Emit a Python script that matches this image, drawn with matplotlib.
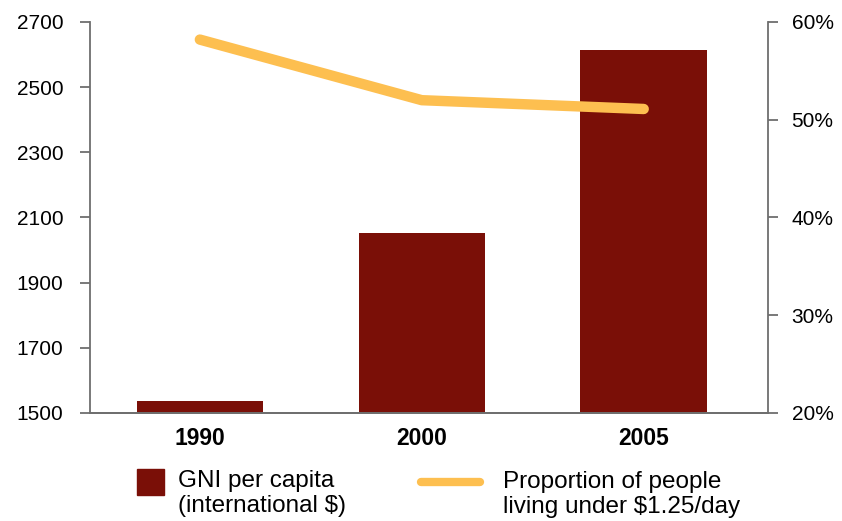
"""
GNI per capita vs proportion of people living under $1.25/day
"""

import matplotlib.pyplot as plt
from matplotlib.lines import Line2D
from matplotlib.patches import Rectangle
from matplotlib.ticker import FuncFormatter

years = ['1990', '2000', '2005']
gni = [1537, 2052, 2613]
poverty = [58.2, 52.0, 51.1]

bar_color = '#7a0f07'
line_color = '#fdbf50'
spine_color = '#6e6e6e'

plt.rcParams['font.family'] = ['Liberation Sans', 'DejaVu Sans']

fig = plt.figure(figsize=(8.42, 5.21), dpi=100)
ax = fig.add_axes([0.1069, 0.2073, 0.8052, 0.7505])
ax2 = ax.twinx()

pos = list(range(len(years)))
ax.bar(pos, gni, width=0.57, color=bar_color, zorder=2)
ax.set_ylim(1500, 2700)
ax.set_yticks([1500, 1700, 1900, 2100, 2300, 2500, 2700])
ax.set_xlim(-0.495, 2.56)
ax.set_xticks(pos)
ax.set_xticklabels(years, fontsize=16.5, fontweight='bold')
ax.tick_params(axis='x', length=0, pad=10)
ax.tick_params(axis='y', length=7, width=1.3, color=spine_color,
               labelsize=15, pad=12)

ax2.plot(pos, poverty, color=line_color, lw=7.5, solid_capstyle='round',
         zorder=3)
ax2.set_ylim(20, 60)
ax2.set_yticks([20, 30, 40, 50, 60])
ax2.yaxis.set_major_formatter(FuncFormatter(lambda v, p: f'{v:.0f}%'))
ax2.tick_params(axis='y', length=7, width=1.3, color=spine_color,
                labelsize=15, pad=10)

for a in (ax, ax2):
    a.spines['top'].set_visible(False)
    for s in ('left', 'right', 'bottom'):
        a.spines[s].set_color(spine_color)
        a.spines[s].set_linewidth(1.3)
ax.spines['right'].set_visible(False)
ax2.spines['left'].set_visible(False)

# legend drawn by hand
fig.add_artist(Rectangle((137 / 842, 1 - 495 / 521), 27 / 842, 26 / 521,
                         transform=fig.transFigure, color=bar_color))
fig.text(178 / 842, 1 - 487 / 521, 'GNI per capita', fontsize=17.5,
         va='baseline')
fig.text(178 / 842, 1 - 512 / 521, '(international $)', fontsize=17.5,
         va='baseline')
fig.add_artist(Line2D([421 / 842, 480 / 842], [1 - 482 / 521, 1 - 482 / 521],
                      transform=fig.transFigure, color=line_color, lw=6,
                      solid_capstyle='round'))
fig.text(503 / 842, 1 - 488 / 521, 'Proportion of people', fontsize=17.5,
         va='baseline')
fig.text(503 / 842, 1 - 513 / 521, 'living under $1.25/day', fontsize=17.5,
         va='baseline')

fig.savefig('out.png', dpi=100)
